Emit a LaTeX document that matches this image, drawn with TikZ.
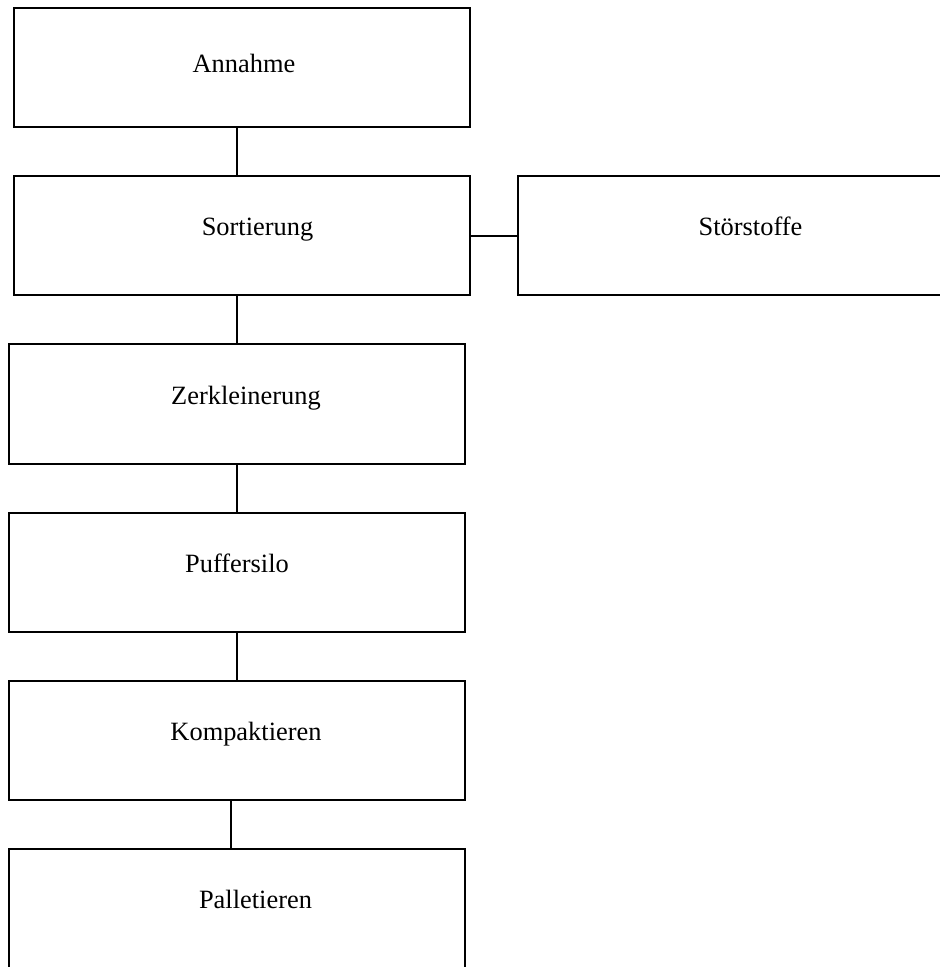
\documentclass[tikz,border=0pt]{standalone}
\usepackage{fontspec}
\setmainfont{Liberation Serif}
\usetikzlibrary{positioning, calc}
\tikzset{stepbox/.style = {draw, line width=1pt, rectangle, inner sep=0pt,
		minimum width=228pt, minimum height=59.5pt, text height=6pt, text depth=6pt,
		font=\fontsize{13.2}{16}\selectfont},
	lpad/.style = {execute at begin node=\hspace*{#1}},
	link/.style = {draw, line width=1pt}}
\begin{document}
\begin{tikzpicture}[x=0.5pt, y=-0.5pt]
\useasboundingbox (0,0) rectangle (940,967);
\node[stepbox, lpad=2.5pt, text height=8.75pt, text depth=3.25pt] (annahme) at (241.5,67.5) {Annahme};
\node[stepbox, lpad=16pt] (sortierung) at (241.5,235.5) {Sortierung};
\node[stepbox, minimum width=233pt] (stoerstoffe) at (750.5,236) {Störstoffe};
\node[stepbox, lpad=9pt] (zerkleinerung) at (237,404) {Zerkleinerung};
\node[stepbox] (puffersilo) at (237,572) {Puffersilo};
\node[stepbox, lpad=9pt] (kompaktieren) at (237,740) {Kompaktieren};
\node[stepbox, lpad=18.5pt] (palletieren) at (237,908) {Palletieren};

\draw[link] (annahme.south -| puffersilo.north) -- (sortierung.north -| puffersilo.north);
\draw[link] (sortierung.east |- stoerstoffe.west) -- (stoerstoffe.west);
\draw[link] (sortierung.south -| puffersilo.north) -- (zerkleinerung.north);
\draw[link] (zerkleinerung) -- (puffersilo);
\draw[link] (puffersilo) -- (kompaktieren);
\draw[link] ([xshift=-3pt]kompaktieren.south) -- ([xshift=-3pt]palletieren.north);
\end{tikzpicture}
\end{document}
